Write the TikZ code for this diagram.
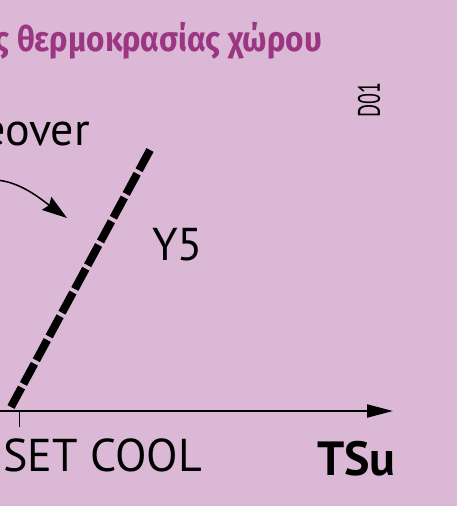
\documentclass[tikz,border=0pt]{standalone}
\usepackage{fontspec}
\setmainfont{PT Sans}
\newfontfamily\titlefont[FakeStretch=0.9]{Fira Sans}
\usetikzlibrary{arrows.meta}
\definecolor{bgpink}{RGB}{219,184,214}
\definecolor{titlepurple}{RGB}{155,55,130}
\tikzset{
  lbl/.style={inner sep=0pt, font=\fontsize{46}{46}\selectfont},
  dashline/.style={line width=8pt, dash pattern=on 23pt off 4pt},
  axisline/.style={line width=2pt, -{Triangle[length=26pt,width=13pt]}},
  curvearrow/.style={line width=1.5pt, -{Stealth[length=25pt,width=16pt,inset=3pt]}}
}
\begin{document}
\begin{tikzpicture}[x=1pt,y=-1pt]
\useasboundingbox (0,0) rectangle (457,506);
\fill[bgpink] (0,0) rectangle (457,506);
\clip (0,0) rectangle (457,506);
\node[anchor=base east, inner sep=0pt, text=titlepurple, font=\titlefont\bfseries\fontsize{35}{35}\selectfont] (title) at (322,51) {ς θερμοκρασίας χώρου};
\node[lbl, anchor=base east] (chg) at (90,145) {eover};
\node[inner sep=0pt, rotate=90] (d01) at (369,100) {\resizebox{35pt}{22pt}{D01}};
\node[lbl, anchor=base west] (y5) at (152,260) {Y5};
\node[lbl, anchor=base west] (setcool) at (3,471) {SET COOL};
\node[lbl, anchor=base west, font=\bfseries\fontsize{48}{48}\selectfont] (tsu) at (317,475) {TSu};
\coordinate (axL) at (-5,411);
\coordinate (axR) at (393,411);
\draw[axisline] (axL) -- (axR);
\coordinate (tk1) at (19,411);
\coordinate (tk2) at (19,427);
\draw[line width=1pt] (tk1) -- (tk2);
\coordinate (dT) at (150,150);
\coordinate (dB) at (11,407);
\draw[dashline] (dT) -- (dB);
\coordinate (cS) at (-5,180);
\coordinate (cT) at (67,218);
\draw[curvearrow] (cS) .. controls (20,181) and (42,200) .. (cT);
\end{tikzpicture}
\end{document}
